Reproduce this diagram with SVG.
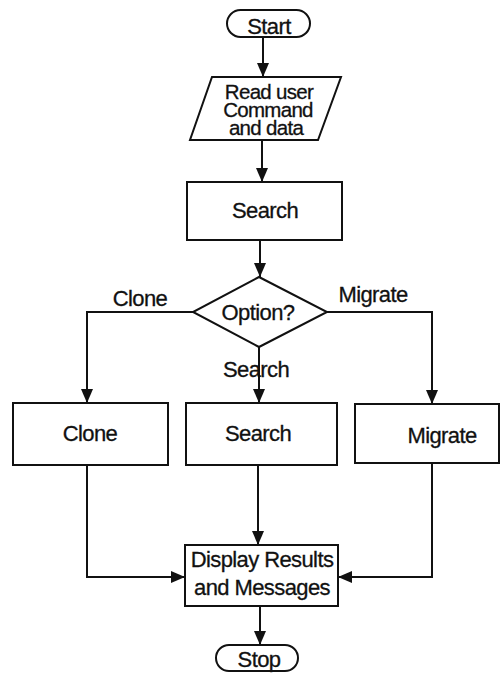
<svg xmlns="http://www.w3.org/2000/svg" width="501" height="673" viewBox="0 0 501 673">
  <style>
    .shape { fill: #fff; stroke: #111; stroke-width: 2; }
    .line { fill: none; stroke: #111; stroke-width: 2; }
    text { font-family: "Liberation Sans", Arial, sans-serif; font-size: 22px; letter-spacing: -0.6px; fill: #111; stroke: #111; stroke-width: 0.3; text-anchor: middle; }
    .tight { font-size: 20.5px; letter-spacing: -0.7px; }
  </style>
  <defs>
    <marker id="arrow" viewBox="0 0 14 12" refX="14" refY="6" markerWidth="14" markerHeight="12" markerUnits="userSpaceOnUse" orient="auto">
      <path d="M0,0 L14,6 L0,12 Z" fill="#111"/>
    </marker>
  </defs>
  <rect width="501" height="673" fill="#fff"/>

  <!-- connectors -->
  <g id="connectors">
    <line class="line" x1="263" y1="37" x2="263" y2="77" marker-end="url(#arrow)"/>
    <line class="line" x1="262" y1="140" x2="262" y2="182" marker-end="url(#arrow)"/>
    <line class="line" x1="260" y1="240" x2="260" y2="277" marker-end="url(#arrow)"/>
    <polyline class="line" points="193,312 87,312 87,403" marker-end="url(#arrow)"/>
    <polyline class="line" points="327,312 432,312 432,404" marker-end="url(#arrow)"/>
    <line class="line" x1="259" y1="347" x2="259" y2="403" marker-end="url(#arrow)"/>
    <line class="line" x1="258" y1="465" x2="258" y2="545" marker-end="url(#arrow)"/>
    <polyline class="line" points="87,465 87,577 185,577" marker-end="url(#arrow)"/>
    <polyline class="line" points="432,463 432,577 338,577" marker-end="url(#arrow)"/>
    <line class="line" x1="260" y1="606" x2="260" y2="645" marker-end="url(#arrow)"/>
    <text x="140" y="306">Clone</text>
    <text x="373" y="302">Migrate</text>
    <text x="256" y="377">Search</text>
  </g>

  <g id="start">
    <rect class="shape" x="227" y="10" width="83" height="27" rx="13.5"/>
    <text x="269" y="34">Start</text>
  </g>

  <g id="read-input">
    <polygon class="shape" points="212,77 341,77 318,140 190,140"/>
    <text class="tight" x="269" y="99">Read user</text>
    <text class="tight" x="268" y="117">Command</text>
    <text class="tight" x="266" y="135">and data</text>
  </g>

  <g id="search-main">
    <rect class="shape" x="187" y="182" width="155" height="58"/>
    <text x="265" y="218">Search</text>
  </g>

  <g id="option">
    <polygon class="shape" points="259,277 327,312 259,347 193,312"/>
    <text x="258" y="320">Option?</text>
  </g>

  <g id="clone">
    <rect class="shape" x="13" y="403" width="155" height="62"/>
    <text x="90" y="441">Clone</text>
  </g>

  <g id="search-op">
    <rect class="shape" x="186" y="403" width="151" height="62"/>
    <text x="258" y="441">Search</text>
  </g>

  <g id="migrate">
    <rect class="shape" x="355" y="404" width="144" height="59"/>
    <text x="442" y="443">Migrate</text>
  </g>

  <g id="display">
    <rect class="shape" x="185" y="545" width="153" height="61"/>
    <text x="262" y="567">Display Results</text>
    <text x="262" y="595">and Messages</text>
  </g>

  <g id="stop">
    <rect class="shape" x="216" y="645" width="82" height="26" rx="13"/>
    <text x="259" y="667">Stop</text>
  </g>
</svg>
